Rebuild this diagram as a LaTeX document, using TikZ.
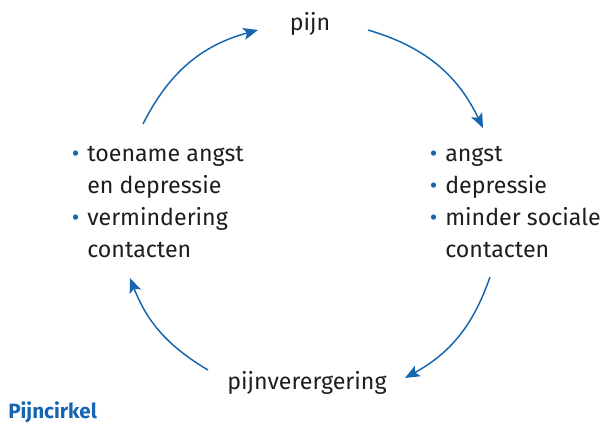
\documentclass[tikz,border=0pt]{standalone}
\usepackage{fontspec}
\setmainfont{Fira Sans}
\usepackage{xcolor}
\usepackage{tikz}
\usetikzlibrary{arrows.meta}
\definecolor{pblauw}{HTML}{1565B0}
\definecolor{ptekst}{HTML}{1E1E1E}
\newcommand{\bol}{\llap{\textcolor{pblauw}{\textbullet}\hspace{6pt}}}
\tikzset{
  Tekst/.style={text=ptekst, font=\fontsize{17.4}{24}\selectfont, inner sep=0pt, anchor=base west, align=left}, % voor teksten
  Pijl/.style={pblauw, line width=1.1pt, ->, bend left=#1}, % voor pijlen
  Titel/.style={text=pblauw, font=\fontsize{15.5}{18}\selectfont\bfseries, inner sep=0pt, anchor=base west}
}
\begin{document}
\begin{tikzpicture}[x=0.75pt, y=-0.75pt,
>={Stealth[length=11pt, width=9pt, inset=2.5pt]} % Pfeilspitzen
]
\useasboundingbox (0,0) rectangle (605,424);

%Teksten
\node[Tekst, anchor=base] (pijn) at (310,31) {pijn};
\node[Tekst] (rechts) at (445,257) {\bol angst\\\bol depressie\\\bol minder sociale\\contacten};
\node[Tekst] (links) at (87,257) {\bol toename angst\\en depressie\\\bol vermindering\\contacten};
\node[Tekst, anchor=base] (erger) at (307,389) {pijnverergering};
\node[Titel] (titel) at (8,418) {Pijncirkel};

%Eindpunten
\coordinate (a1) at (143,124);
\coordinate (a2) at (258,30);
\coordinate (b1) at (368,30);
\coordinate (b2) at (483,128);
\coordinate (c1) at (490,277);
\coordinate (c2) at (405,378);
\coordinate (d1) at (208,370);
\coordinate (d2) at (130,278);

%Pijlen
\draw[Pijl=24] (a1) to (a2);
\draw[Pijl=24] (b1) to (b2);
\draw[Pijl=21] (c1) to (c2);
\draw[Pijl=19] (d1) to (d2);

\end{tikzpicture}
\end{document}
